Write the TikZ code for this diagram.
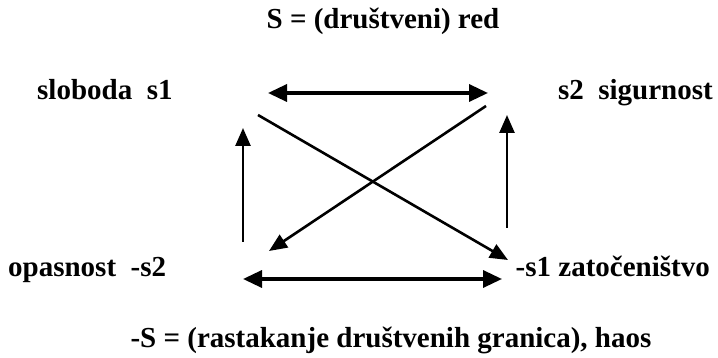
\documentclass[tikz,border=0pt]{standalone}
\usepackage{fontspec}
\setmainfont{Liberation Serif}
\usepackage{tikz}
\usetikzlibrary{arrows.meta,positioning}

\begin{document}
\begin{tikzpicture}[x=1pt,y=-1pt,
    lbl/.style={inner sep=0pt,font=\bfseries\fontsize{29}{32}\selectfont},
    harr/.style={line width=3.4pt,{Triangle[length=19pt,width=17pt]}-{Triangle[length=19pt,width=17pt]}},
    varr/.style={line width=2.6pt,-{Triangle[length=18pt,width=15pt]}}]
    \useasboundingbox (0,0) rectangle (718,358);
    \node(S)[lbl,anchor=base] at (383,29){S = (društveni) red};
    \node(s1)[lbl,anchor=base west] at (37,100){sloboda\ \ s1};
    \node(s2)[lbl,anchor=base east] at (713,100){s2\ \ sigurnost};
    \node(ns2)[lbl,anchor=base west] at (8,277){opasnost\ \ -s2};
    \node(ns1)[lbl,anchor=base east] at (710,277){-s1 zatočeništvo};
    \node(nS)[lbl,anchor=base] at (391,347){-S = (rastakanje društvenih granica), haos};
    % arrow ends
    \coordinate(t1) at (268,93);
    \coordinate(t2) at (488,93);
    \coordinate(b1) at (243,279);
    \coordinate(b2) at (502,279);
    \coordinate(l1) at (243,242);
    \coordinate(l2) at (243,128);
    \coordinate(r1) at (507,228);
    \coordinate(r2) at (507,115);
    \coordinate(da1) at (258,115);
    \coordinate(da2) at (508,260);
    \coordinate(db1) at (486,106);
    \coordinate(db2) at (269,251);
    \draw[harr](t1) -- (t2);
    \draw[harr](b1) -- (b2);
    \draw[varr](l1) -- (l2);
    \draw[varr](r1) -- (r2);
    \draw[varr](da1) -- (da2);
    \draw[varr](db1) -- (db2);
\end{tikzpicture}
\end{document}
